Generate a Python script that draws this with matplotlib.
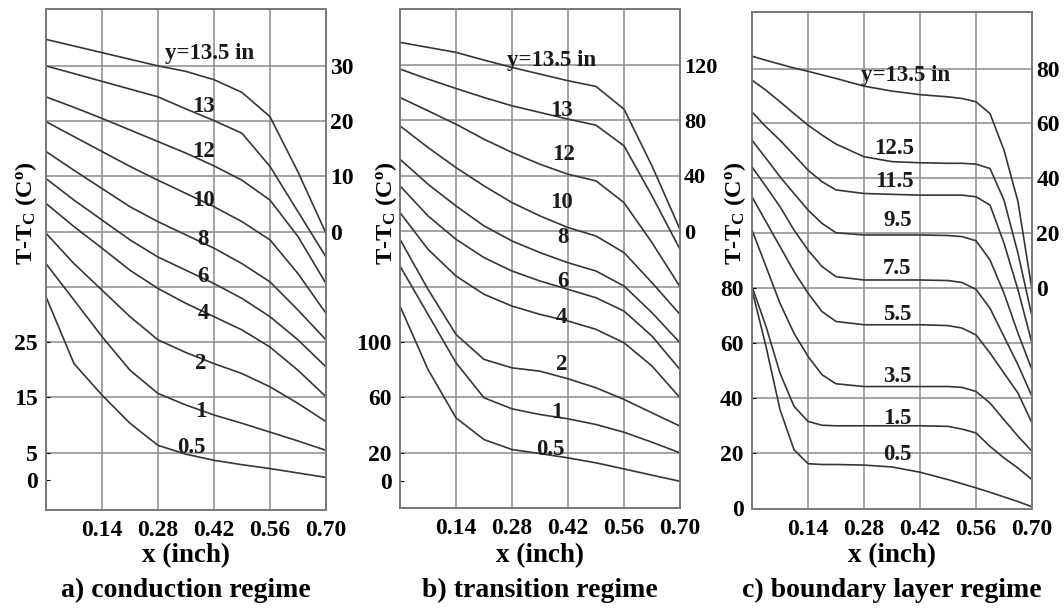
import matplotlib
matplotlib.use('Agg')
import matplotlib.pyplot as plt
import numpy as np

plt.rcParams['font.family'] = 'Liberation Serif'
plt.rcParams['font.weight'] = 'bold'
plt.rcParams['mathtext.fontset'] = 'custom'
plt.rcParams['mathtext.rm'] = 'Liberation Serif:bold'
plt.rcParams['mathtext.it'] = 'Liberation Serif:bold'

# --- data: x (inch) and T-Tc (left-axis units) ---
x_ab = [0.0, 0.07, 0.14, 0.21, 0.28, 0.35, 0.42, 0.49, 0.56, 0.63, 0.70]
x_c = [0.0, 0.035, 0.07, 0.105, 0.14, 0.175, 0.21, 0.28, 0.35, 0.42, 0.49,
       0.525, 0.56, 0.595, 0.63, 0.665, 0.70]

# a) conduction regime
a_names = ['y=13.5 in', '13', '12', '10', '8', '6', '4', '2', '1', '0.5']
a_T = [
    [79.8, 78.6, 77.4, 76.2, 75.0, 74.0, 72.5, 70.2, 65.8, 55.8, 44.7],
    [75.0, 73.6, 72.2, 70.8, 69.4, 67.2, 65.1, 62.8, 56.8, 48.6, 40.4],
    [69.4, 67.5, 65.5, 63.4, 61.3, 59.2, 56.9, 54.3, 50.7, 44.1, 35.6],
    [64.9, 62.2, 59.5, 56.8, 54.3, 51.9, 49.5, 46.8, 43.5, 37.4, 30.2],
    [59.5, 56.1, 52.8, 49.5, 46.8, 44.4, 42.0, 39.2, 35.9, 30.8, 25.4],
    [54.6, 50.7, 47.1, 43.5, 40.4, 38.0, 35.6, 32.9, 29.6, 25.4, 20.5],
    [50.1, 45.9, 42.0, 38.0, 34.7, 32.0, 29.6, 27.2, 24.1, 19.9, 15.1],
    [44.7, 39.2, 34.4, 29.6, 25.4, 23.1, 21.1, 19.3, 16.9, 13.9, 10.6],
    [39.2, 32.6, 26.0, 19.9, 15.7, 13.6, 11.8, 10.3, 8.7, 7.1, 5.4],
    [33.2, 21.1, 15.4, 10.3, 6.3, 4.7, 3.6, 2.8, 2.1, 1.3, 0.5],
]
a_lab_x = [0.409, 0.393, 0.393, 0.393, 0.393, 0.393, 0.393, 0.388, 0.388, 0.363]
a_lab_T = [77.3, 67.6, 59.5, 50.7, 43.5, 36.8, 30.2, 21.1, 12.4, 6.0]

# b) transition regime
b_names = ['y=13.5 in', '13', '12', '10', '8', '6', '4', '2', '1', '0.5']
b_T = [
    [316.4, 312.8, 309.2, 303.6, 298.3, 293.5, 288.7, 284.6, 268.2, 227.2, 181.4],
    [297.1, 289.9, 283.1, 276.6, 270.6, 265.8, 261.0, 256.6, 241.7, 205.5, 167.0],
    [276.6, 267.0, 257.3, 246.5, 236.9, 228.4, 221.2, 216.4, 200.7, 171.8, 140.0],
    [256.1, 240.5, 226.0, 212.8, 200.7, 191.1, 182.7, 176.6, 164.6, 142.9, 120.0],
    [232.0, 214.0, 198.3, 183.9, 173.0, 164.6, 157.3, 151.3, 140.5, 121.2, 99.5],
    [212.8, 191.1, 174.2, 161.0, 151.3, 144.1, 138.1, 132.0, 122.4, 104.3, 80.2],
    [193.5, 167.0, 147.7, 134.5, 126.0, 120.0, 115.2, 109.2, 99.5, 82.7, 59.8],
    [174.2, 138.1, 105.5, 87.5, 81.4, 79.0, 73.5, 67.0, 58.6, 48.9, 39.3],
    [154.9, 120.0, 85.1, 59.8, 51.8, 47.7, 44.6, 40.5, 34.9, 27.7, 20.0],
    [126.0, 80.2, 45.3, 29.6, 22.4, 19.5, 16.4, 12.8, 8.4, 3.9, -0.5],
]
b_lab_x = [0.379, 0.404, 0.408, 0.404, 0.408, 0.408, 0.404, 0.404, 0.392, 0.375]
b_lab_T = [303.1, 267.0, 235.7, 200.7, 175.4, 144.1, 117.6, 83.9, 48.9, 22.4]

# c) boundary layer regime
c_names = ['y=13.5 in', '12.5', '11.5', '9.5', '7.5', '5.5', '3.5', '1.5', '0.5']
c_T = [
    [164.5, 163.0, 161.6, 160.2, 159.0, 157.7, 156.4, 153.6, 151.8, 150.5, 149.7,
     149.1, 147.9, 143.6, 130.3, 111.5, 79.4],
    [155.8, 152.1, 147.9, 143.6, 139.4, 135.8, 132.5, 127.9, 126.1, 125.7, 125.5,
     125.5, 125.2, 123.6, 112.1, 92.7, 69.7],
    [144.2, 138.8, 133.9, 128.5, 123.0, 118.8, 115.8, 114.5, 114.2, 113.9, 113.9,
     113.9, 113.3, 110.3, 96.4, 79.4, 60.0],
    [133.9, 127.3, 120.6, 114.5, 108.5, 103.6, 100.2, 99.4, 99.4, 99.4, 99.2,
     98.8, 97.3, 90.3, 78.2, 63.6, 50.3],
    [124.2, 117.0, 109.7, 101.2, 93.9, 87.9, 84.2, 83.0, 83.0, 83.0, 82.8,
     82.1, 79.6, 72.7, 62.4, 52.1, 40.6],
    [113.3, 104.2, 95.2, 86.1, 78.2, 71.5, 67.9, 66.7, 66.7, 66.7, 66.4,
     65.5, 63.0, 56.4, 49.1, 41.8, 30.9],
    [101.2, 87.9, 74.5, 63.6, 55.2, 48.5, 45.2, 44.2, 44.2, 44.2, 44.2,
     43.9, 42.4, 38.2, 32.1, 26.1, 20.6],
    [80.6, 66.1, 49.1, 37.0, 31.5, 30.1, 29.9, 29.9, 29.9, 29.9, 29.7,
     28.7, 27.3, 22.4, 18.2, 14.5, 10.3],
    [79.4, 58.8, 35.8, 21.2, 16.1, 15.8, 15.8, 15.6, 14.9, 13.0, 10.3,
     8.8, 7.3, 5.7, 4.0, 2.3, 0.4],
]
c_lab_x = [0.384, 0.355, 0.355, 0.363, 0.363, 0.363, 0.363, 0.363, 0.363]
c_lab_T = [157.6, 130.9, 118.8, 104.8, 87.3, 70.3, 47.9, 32.7, 19.4]

x_ticks = [0.14, 0.28, 0.42, 0.56, 0.70]

panels = [
    dict(x=x_ab, T=a_T, names=a_names, lx=a_lab_x, lT=a_lab_T,
         rect=[46, 9, 326, 510], ylim=(-5.4, 85.3), off=45,
         left=[0, 5, 15, 25], right=[0, 10, 20, 30], rows=np.arange(5, 80, 10),
         ylab_x=26, rsize=17, caption='a) conduction regime'),
    dict(x=x_ab, T=b_T, names=b_names, lx=b_lab_x, lT=b_lab_T,
         rect=[400, 9, 680, 508], ylim=(-19.8, 340.5), off=180,
         left=[0, 20, 60, 100], right=[0, 40, 80, 120], rows=np.arange(20, 320, 40),
         ylab_x=386, rsize=16, caption='b) transition regime'),
    dict(x=x_c, T=c_T, names=c_names, lx=c_lab_x, lT=c_lab_T,
         rect=[752, 12, 1032, 509], ylim=(-0.4, 180.6), off=80,
         left=[0, 20, 40, 60, 80], right=[0, 20, 40, 60, 80], rows=np.arange(20, 170, 20),
         ylab_x=735, rsize=17, caption='c) boundary layer regime'),
]

W, H = 1064, 610
fig = plt.figure(figsize=(W / 100, H / 100), dpi=100)
fig.patch.set_facecolor('white')

LINE = '#363636'
GRID = '#8a8a8a'

for p in panels:
    x0, y0, x1, y1 = p['rect']
    ax = fig.add_axes([x0 / W, 1 - y1 / H, (x1 - x0) / W, (y1 - y0) / H])
    ax.set_xlim(0, 0.70)
    ax.set_ylim(*p['ylim'])

    # grid
    for r in p['rows']:
        ax.axhline(r, color=GRID, lw=1.1, zorder=1)
    for xt in x_ticks[:-1]:
        ax.axvline(xt, color=GRID, lw=1.1, zorder=1)

    for T in p['T']:
        ax.plot(p['x'], T, color=LINE, lw=1.2, zorder=3,
                solid_joinstyle='round')

    for name, lx, lT in zip(p['names'], p['lx'], p['lT']):
        ax.text(lx, lT, name, ha='center', va='center', fontsize=16.5,
                fontweight='bold', color='#1a1a1a', zorder=4)

    ax.set_xticks(x_ticks)
    ax.set_xticklabels([f'{v:.2f}' for v in x_ticks])
    ax.set_yticks(p['left'])
    ax.set_yticklabels([str(v) for v in p['left']])
    ax.tick_params(axis='x', length=0, pad=7, labelsize=17)
    ax.tick_params(axis='y', length=3, direction='in', pad=6, labelsize=17)

    ax2 = ax.twinx()
    ax2.set_ylim(p['ylim'][0] - p['off'], p['ylim'][1] - p['off'])
    ax2.set_yticks(p['right'])
    ax2.set_yticklabels([str(v) for v in p['right']])
    ax2.tick_params(axis='y', length=0, pad=3, labelsize=p['rsize'])

    for a in (ax, ax2):
        for s in a.spines.values():
            s.set_color('#7a7a7a')
            s.set_linewidth(1.3)

    cx = (x0 + x1) / 2 / W
    fig.text(p['ylab_x'] / W, 1 - 213 / H, r'T-T$_\mathregular{C}$ (C$^\mathregular{o}$)',
             rotation=90, ha='center', va='center', fontsize=17.5, fontweight='bold')
    fig.text(cx, 1 - 556 / H, 'x (inch)', ha='center', va='center',
             fontsize=19.5, fontweight='bold')
    fig.text(cx, 1 - 590 / H, p['caption'], ha='center', va='center',
             fontsize=20, fontweight='bold')

fig.savefig('out.png', dpi=100, facecolor='white')
